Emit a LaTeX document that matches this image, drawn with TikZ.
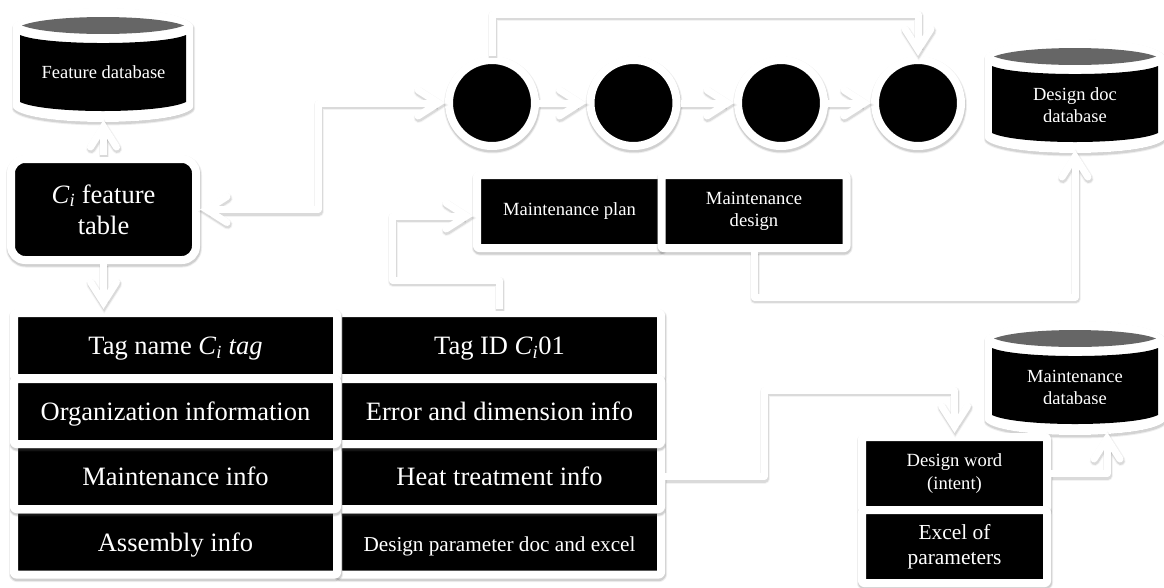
\documentclass[tikz,border=0pt]{standalone}
\usepackage{fontspec}
\setmainfont{Liberation Serif}
\usetikzlibrary{arrows.meta}
\definecolor{shadowgray}{gray}{0.35}
\definecolor{lensgray}{gray}{0.40}
\newcommand{\fs}[1]{\fontsize{#1}{#1}\selectfont}
\newcommand{\ci}{\textit{C}\textsubscript{\textit{i}}}
\pgfdeclarearrow{
  name=Wing,
  parameters={\the\pgfarrowlinewidth},
  setup code={\pgfarrowssettipend{0pt}\pgfarrowssetlineend{-8pt}\pgfarrowssetbackend{-27pt}\pgfarrowssetvisualbackend{-27pt}},
  drawing code={\pgfsetroundcap\pgfsetmiterjoin
    \pgfpathmoveto{\pgfqpoint{-27pt}{13pt}}\pgfpathlineto{\pgfqpoint{-6.6pt}{0pt}}\pgfpathlineto{\pgfqpoint{-27pt}{-13pt}}\pgfusepathqstroke}
}
\newcommand{\dbshape}[3]{%
  % #1 left x, #2 right x, #3 top y of the lens
  \begin{scope}
  \path[fill=shadowgray,opacity=.10,draw=shadowgray,line width=7pt,line join=round,transform canvas={xshift=.5pt,yshift=-2pt}]
    (#1-5,#3+9) .. controls (#1+12,#3-12.3) and (#2-12,#3-12.3) .. (#2+5,#3+9) -- (#2+5,#3+90)
    .. controls (#2-12,#3+107.3) and (#1+12,#3+107.3) .. (#1-5,#3+90) -- cycle;
  \path[fill=shadowgray,opacity=.18,draw=shadowgray,line width=5pt,line join=round,transform canvas={xshift=.5pt,yshift=-2pt}]
    (#1-5,#3+9) .. controls (#1+12,#3-12.3) and (#2-12,#3-12.3) .. (#2+5,#3+9) -- (#2+5,#3+90)
    .. controls (#2-12,#3+107.3) and (#1+12,#3+107.3) .. (#1-5,#3+90) -- cycle;
  \path[fill=white,draw=white,line width=4pt,line join=round]
    (#1-5,#3+9) .. controls (#1+12,#3-12.3) and (#2-12,#3-12.3) .. (#2+5,#3+9) -- (#2+5,#3+90)
    .. controls (#2-12,#3+107.3) and (#1+12,#3+107.3) .. (#1-5,#3+90) -- cycle;
  \fill[lensgray] (#1+2,#3+8.5) .. controls (#1+30,#3-2.8) and (#2-30,#3-2.8) .. (#2-2,#3+8.5)
    .. controls (#2-30,#3+19.8) and (#1+30,#3+19.8) .. (#1+2,#3+8.5) -- cycle;
  \fill[black] (#1,#3+18) .. controls (#1+25,#3+28.7) and (#2-25,#3+28.7) .. (#2,#3+18) -- (#2,#3+85)
    .. controls (#2-25,#3+97) and (#1+25,#3+97) .. (#1,#3+85) -- cycle;
  \end{scope}}
\tikzset{
  x=1pt,y=-1pt,
  softshadow/.style={
    preaction={draw=shadowgray,opacity=.1,line width=11pt,transform canvas={xshift=.5pt,yshift=-2pt}},
    preaction={draw=shadowgray,opacity=.2,line width=9pt,transform canvas={xshift=.5pt,yshift=-2pt}}},
  bk/.style={softshadow,draw=white,fill=black,line width=8pt,text=white,inner sep=0pt,align=center,line join=round},
  cellbox/.style={bk,rectangle,rounded corners=2pt,minimum width=323pt,minimum height=65pt,font=\fs{26.5},text height=18pt,text depth=0pt},
  planbox/.style={bk,rectangle,rounded corners=2pt,minimum width=185pt,minimum height=73pt,font=\fs{18.6}},
  tablebox/.style={bk,rectangle,rounded corners=14pt,minimum width=185pt,minimum height=101pt,font=\fs{26.5}},
  stepdisc/.style={bk,circle,minimum size=86pt},
  dbanchor/.style={rectangle,inner sep=0pt,outer sep=0pt,minimum width=181pt},
  dbtext/.style={text=white,align=center,inner sep=0pt,font=\fs{18.5}},
  oneway/.style={
    preaction={draw=shadowgray,opacity=.07,line width=10pt,line join=round,-{Wing},transform canvas={xshift=.7pt,yshift=-2pt}},
    preaction={draw=shadowgray,opacity=.16,line width=8pt,line join=round,-{Wing},transform canvas={xshift=.7pt,yshift=-2pt}},
    draw=white,line width=7pt,line join=round,-{Wing}},
  twoway/.style={
    preaction={draw=shadowgray,opacity=.07,line width=10pt,line join=round,{Wing}-{Wing},transform canvas={xshift=.7pt,yshift=-2pt}},
    preaction={draw=shadowgray,opacity=.16,line width=8pt,line join=round,{Wing}-{Wing},transform canvas={xshift=.7pt,yshift=-2pt}},
    draw=white,line width=7pt,line join=round,{Wing}-{Wing}},
}
\begin{document}
\begin{tikzpicture}
\useasboundingbox (0,0) rectangle (1164,587);
\fill[white] (0,0) rectangle (1164,587);

% databases
\dbshape{20}{186}{17}
\node[dbanchor,minimum height=110pt] (fdb) at (103.5,65) {};
\node[dbtext] (fdbt) at (103.5,72) {Feature database};

\dbshape{992}{1158}{48}
\node[dbanchor,minimum height=110pt] (ddb) at (1075,95) {};
\begin{scope}
\clip (992,70) rectangle (1158,121.5);
\node[dbtext] (ddbt) at (1075,105) {Design doc\\[3.5pt]database};
\end{scope}

\dbshape{992}{1158}{330}
\node[dbanchor,minimum height=110pt] (mdb) at (1075,377) {};
\begin{scope}
\clip (992,352) rectangle (1158,403.5);
\node[dbtext] (mdbt) at (1075,387) {Maintenance\\[3.5pt]database};
\end{scope}

% feature table
\node[tablebox] (ft) at (103.5,209.5) {\ci{} feature\\[4.5pt]table};

% step discs
\node[stepdisc] (c1) at (492,103) {};
\node[stepdisc] (c2) at (633.5,103) {};
\node[stepdisc] (c3) at (781,103) {};
\node[stepdisc] (c4) at (918,103) {};

% maintenance boxes
\node[planbox] (plan) at (569.5,211.5) {Maintenance plan};
\node[planbox] (design) at (754,211.5) {Maintenance\\[3.5pt]design};

% right table
\node[cellbox] (tagid) at (499.5,345.5) {Tag ID \ci01};
\node[cellbox,font=\fs{21.2}] (param) at (499.5,542) {Design parameter doc and excel};
\node[cellbox] (heat) at (499.5,476.5) {Heat treatment info};
\node[cellbox] (err) at (499.5,411.5) {Error and dimension info};

% left table
\node[cellbox] (tagname) at (175.5,345.5) {Tag name \ci{} \textit{tag}};
\node[cellbox] (assembly) at (175.5,542) {Assembly info};
\node[cellbox] (maint) at (175.5,476.5) {Maintenance info};
\node[cellbox] (org) at (175.5,411.5) {Organization information};

% lower-right boxes
\node[planbox] (word) at (954.5,473.5) {Design word\\[3.5pt](intent)};
\node[planbox,font=\fs{21.4}] (excel) at (954.5,546.5) {Excel of\\[4pt]parameters};

% bend points
\coordinate (jtop) at (700,14);
\coordinate (jmid) at (318,150);
\coordinate (jplan) at (392,280);
\coordinate (jdes) at (900,297);
\coordinate (jheat) at (764,390);

% connectors
\draw[oneway] (ft.north) -- (fdb.south);
\draw[oneway] (ft.south) -- ([xshift=-72pt]tagname.north);
\draw[twoway] (ft.east) -| (jmid) |- (c1.west);
\draw[oneway] (c1.east) -- (c2.west);
\draw[oneway] (c2.east) -- (c3.west);
\draw[oneway] (c3.east) -- (c4.west);
\draw[oneway] (c1.north) |- (jtop) -| (c4.north);
\draw[oneway] (tagid.north) |- (jplan) |- ([yshift=-4.5pt]plan.west);
\draw[oneway] (design.south) |- (jdes) -| (ddb.south);
\draw[oneway] (heat.east) -| (jheat) -| (word.north);
\draw[oneway] (word.east) -| ([xshift=32pt]mdb.south);
\end{tikzpicture}
\end{document}
